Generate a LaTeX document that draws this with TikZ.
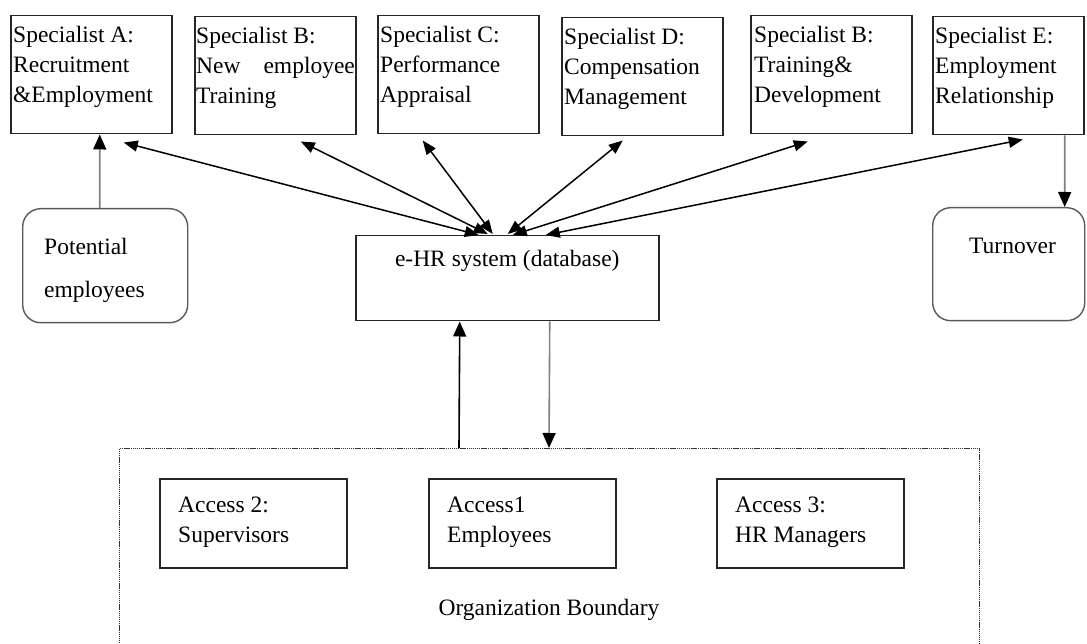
\documentclass[tikz,border=0pt]{standalone}
\usepackage{fontspec}
\setmainfont{Liberation Serif}
\usetikzlibrary{arrows.meta,calc}
\begin{document}
\begin{tikzpicture}[x=1pt,y=-1pt,
  sbox/.style={draw=black!85, line width=1.5pt, minimum width=161pt, minimum height=118pt, anchor=north west, inner sep=0pt},
  abox/.style={draw=black!85, line width=1.5pt, minimum width=187pt, minimum height=89pt, anchor=north west, inner sep=0pt},
  rbox/.style={draw=black!65, line width=1.4pt, rounded corners=18pt, anchor=north west, inner sep=0pt},
  txt/.style={font=\fontsize{23.5}{30}\selectfont, align=left, inner sep=0pt, anchor=north west, text=black},
  dbl/.style={line width=1.5pt, black, {Triangle[length=14pt,width=11pt]}-{Triangle[length=14pt,width=11pt]}},
  garr/.style={line width=1.6pt, draw=black!50, -{Triangle[length=15pt,width=13pt,color=black]}},
  barr/.style={line width=1.6pt, draw=black, -{Triangle[length=15pt,width=13pt]}},
]
\useasboundingbox (0,0) rectangle (1087,644);
\fill[white] (0,0) rectangle (1087,644);

% specialist boxes
\node[sbox] (A)  at (10,15)  {};
\node[sbox] (B)  at (194,16) {};
\node[sbox] (C)  at (377,15) {};
\node[sbox] (D)  at (561,17) {};
\node[sbox] (B2) at (750,15) {};
\node[sbox, minimum width=151pt] (E) at (932,16) {};

\node[txt] (tA)  at ($(A.north west)+(3,11)$)  {Specialist A:\\Recruitment\\\&Employment};
\node[txt] (tB)  at ($(B.north west)+(2,11)$)  {Specialist B:\\New\hspace{23pt}employee\\Training};
\node[txt] (tC)  at ($(C.north west)+(3,11)$)  {Specialist C:\\Performance\\Appraisal};
\node[txt] (tD)  at ($(D.north west)+(3,11)$)  {Specialist D:\\Compensation\\Management};
\node[txt] (tB2) at ($(B2.north west)+(4,11)$) {Specialist B:\\Training\&\\Development};
\node[txt] (tE)  at ($(E.north west)+(3,11)$)  {Specialist E:\\Employment\\Relationship};

% side rounded boxes
\node[rbox, minimum width=165pt, minimum height=114pt] (pot) at (22,208) {};
\node[txt] (tP) at ($(pot.north west)+(22,30)$) {Potential\\[13pt]employees};
\node[rbox, minimum width=152pt, minimum height=113pt] (turn) at (932,207) {};
\node[txt] (tT) at ($(turn.north west)+(37,31)$) {Turnover};

% e-HR
\node[draw=black!85, line width=1.5pt, minimum width=303pt, minimum height=85pt, anchor=north west, inner sep=0pt] (ehr) at (355,235) {};
\node[txt, anchor=north] (tH) at ($(ehr.north)+(0,15)$) {e-HR system (database)};

% organization boundary
\node[draw=black!80, line width=1.1pt, dash pattern=on 1.3pt off 0.8pt, minimum width=860pt, minimum height=260pt, anchor=north west, inner sep=0pt] (bd) at (119,448) {};
\node[abox] (acc2) at (159,478) {};
\node[abox] (acc1) at (428,478) {};
\node[abox] (acc3) at (716,478) {};
\node[txt] (t2) at ($(acc2.north west)+(19,19)$) {Access 2:\\Supervisors};
\node[txt] (t1) at ($(acc1.north west)+(19,19)$) {Access1\\Employees};
\node[txt] (t3) at ($(acc3.north west)+(19,19)$) {Access 3:\\HR Managers};
\node[txt, anchor=base] (tO) at (549,615) {Organization Boundary};

% connectors specialists <-> e-HR
\draw[dbl] ($(A.south)+(32.5,8)$)   -- ($(ehr.north)+(-28.5,0)$);
\draw[dbl] ($(B.south)+(25.5,6)$)   -- ($(ehr.north)+(-19.5,-1)$);
\draw[dbl] ($(C.south)+(-35.5,6)$)  -- ($(ehr.north)+(-14.5,-1)$);
\draw[dbl] ($(D.south)+(-19.5,4)$)  -- ($(ehr.north)+(0.5,-1)$);
\draw[dbl] ($(B2.south)+(-23.5,7)$) -- ($(ehr.north)+(5.5,0)$);
\draw[dbl] ($(E.south)+(14.5,4)$)   -- ($(ehr.north)+(38.5,0)$);

% other arrows
\draw[garr] ($(pot.north)+(-5.5,0)$) -- ($(A.south)+(8.5,0)$);
\draw[garr] ($(E.south)+(56.5,0)$) -- ($(turn.north)+(56,0)$);
\draw[barr] ($(bd.north west)+(340,0)$) -- ($(ehr.south)+(-47.5,0)$);
\draw[garr] ($(ehr.south)+(42.5,0)$) -- ($(bd.north west)+(430,0)$);
\end{tikzpicture}
\end{document}
